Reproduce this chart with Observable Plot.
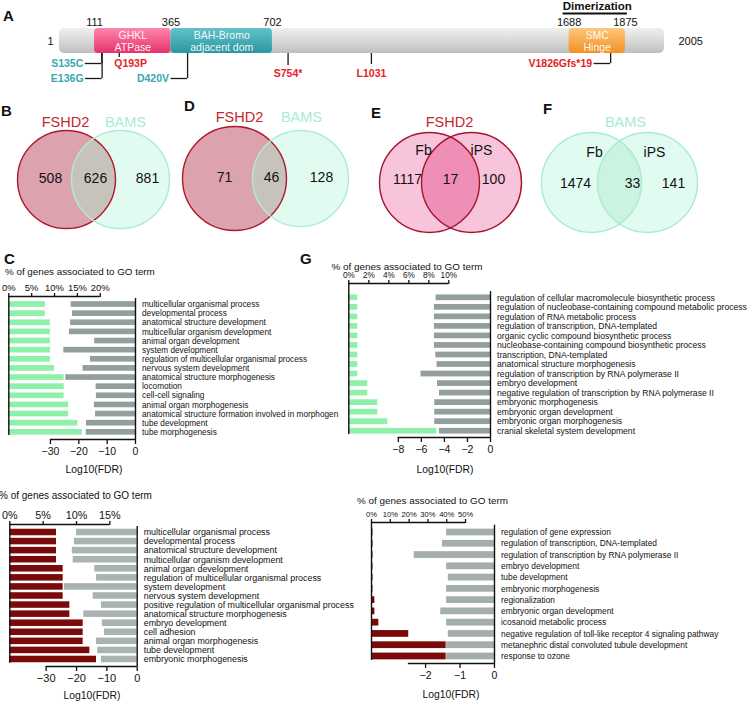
<!DOCTYPE html>
<html>
<head>
<meta charset="utf-8">
<script src="https://cdn.jsdelivr.net/npm/d3@7"></script>
<script src="https://cdn.jsdelivr.net/npm/@observablehq/plot@0.6"></script>
<style>
  html, body { margin: 0; padding: 0; background: #fff; }
  #fig { position: relative; width: 754px; height: 703px; overflow: hidden; background: #fff;
         font-family: "Liberation Sans", Arial, Helvetica, sans-serif; color: #111; }
  #fig .t { position: absolute; white-space: nowrap; line-height: 1; }
</style>
</head>
<body>
<svg width="0" height="0" style="position:absolute">
  <defs>
    <linearGradient id="gBar" x1="0" y1="0" x2="0" y2="1">
      <stop offset="0" stop-color="#efefef"/><stop offset="0.5" stop-color="#d9d9d9"/><stop offset="1" stop-color="#bfbfbf"/>
    </linearGradient>
    <linearGradient id="gGHKL" x1="0" y1="0" x2="0" y2="1">
      <stop offset="0" stop-color="#fc86ab"/><stop offset="1" stop-color="#e5336b"/>
    </linearGradient>
    <linearGradient id="gBAH" x1="0" y1="0" x2="0" y2="1">
      <stop offset="0" stop-color="#62c3ca"/><stop offset="1" stop-color="#2b97a2"/>
    </linearGradient>
    <linearGradient id="gSMC" x1="0" y1="0" x2="0" y2="1">
      <stop offset="0" stop-color="#fdc77c"/><stop offset="1" stop-color="#f29125"/>
    </linearGradient>
  </defs>
</svg>
<div id="fig"></div>
<script>
// ===================== DATA =====================
// Panel A: SMCHD1 protein
const proteinLength = 2005;
const domainNames = ["GHKL\nATPase", "BAH-Bromo\nadjacent dom", "SMC\nHinge"];
const domainStarts = [111, 365, 1688];
const domainEnds = [365, 702, 1875];
const dimerizationLabel = "Dimerization";
const dimerizationRange = [1688, 1875];
const mutationNames = ["S135C", "E136G", "Q193P", "D420V", "S754*", "L1031", "V1826Gfs*19"];
const mutationPositions = [135, 136, 193, 420, 754, 1031, 1826];
const mutationCohorts = ["BAMS", "BAMS", "FSHD2", "BAMS", "FSHD2", "FSHD2", "FSHD2"];

// Panels B, D, E, F: Venn diagrams
const vennPanels = ["B", "D", "E", "F"];
const vennTitles = [["FSHD2", "BAMS"], ["FSHD2", "BAMS"], ["FSHD2"], ["BAMS"]];
const vennSets = [["FSHD2", "BAMS"], ["FSHD2", "BAMS"], ["Fb", "iPS"], ["Fb", "iPS"]];
const vennShowSetNames = [false, false, true, true];
const vennCounts = [[508, 626, 881], [71, 46, 128], [1117, 17, 100], [1474, 33, 141]];

// Panel C (top): BAMS
const cUpTerms = ["multicellular organismal process", "developmental process", "anatomical structure development",
  "multicellular organism development", "animal organ development", "system development",
  "regulation of multicellular organismal process", "nervous system development", "anatomical structure morphogenesis",
  "locomotion", "cell-cell signaling", "animal organ morphogenesis",
  "anatomical structure formation involved in morphogen", "tube development", "tube morphogenesis"];
const cUpPct = [8.0, 8.0, 9.1, 9.1, 9.1, 9.1, 9.1, 10.0, 12.1, 12.1, 12.1, 13.1, 13.1, 15.1, 16.1];
const cUpFdr = [-22.7, -22.2, -22.9, -23.3, -14.4, -25.3, -15.9, -18.5, -24.6, -13.9, -13.8, -14.5, -14.1, -17.3, -17.4];
const cUpPctTicks = [0, 5, 10, 15, 20];
const cUpFdrTicks = [-30, -20, -10, 0];

// Panel C (bottom): FSHD2
const cLoTerms = ["multicellular organismal process", "developmental process", "anatomical structure development",
  "multicellular organism development", "animal organ development", "regulation of multicellular organismal process",
  "system development", "nervous system development", "positive regulation of multicellular organismal process",
  "anatomical structure morphogenesis", "embryo development", "cell adhesion", "animal organ morphogenesis",
  "tube development", "embryonic morphogenesis"];
const cLoPct = [7.0, 7.0, 7.0, 7.0, 8.0, 8.0, 8.0, 8.0, 9.0, 9.0, 11.0, 11.0, 11.0, 12.0, 13.0];
const cLoFdr = [-20.0, -20.7, -21.4, -21.1, -14.0, -13.4, -24.0, -14.5, -11.8, -17.6, -11.5, -10.8, -13.4, -13.0, -11.8];
const cLoPctTicks = [0, 5, 10, 15];
const cLoFdrTicks = [-30, -20, -10, 0];

// Panel G (top): BAMS
const gUpTerms = ["regulation of cellular macromolecule biosynthetic process",
  "regulation of nucleobase-containing compound metabolic process", "regulation of RNA metabolic process",
  "regulation of transcription, DNA-templated", "organic cyclic compound biosynthetic process",
  "nucleobase-containing compound biosynthetic process", "transcription, DNA-templated",
  "anatomical structure morphogenesis", "regulation of transcription by RNA polymerase II", "embryo development",
  "negative regulation of transcription by RNA polymerase II", "embryonic morphogenesis",
  "embryonic organ development", "embryonic organ morphogenesis", "cranial skeletal system development"];
const gUpPct = [0.9, 0.9, 0.9, 0.9, 0.9, 0.9, 0.9, 0.9, 0.9, 1.9, 1.9, 2.9, 2.9, 3.9, 8.8];
const gUpFdr = [-4.72, -4.87, -4.87, -4.87, -4.87, -4.87, -4.75, -4.64, -6.03, -4.6, -4.43, -4.84, -4.84, -4.84, -4.43];
const gUpPctTicks = [0, 2, 4, 6, 8, 10];
const gUpFdrTicks = [-8, -6, -4, -2, 0];

// Panel G (bottom): FSHD2
const gLoTerms = ["regulation of gene expression", "regulation of transcription, DNA-templated",
  "regulation of transcription by RNA polymerase II", "embryo development", "tube development",
  "embryonic morphogenesis", "regionalization", "embryonic organ development", "icosanoid metabolic process",
  "negative regulation of toll-like receptor 4 signaling pathway",
  "metanephric distal convoluted tubule development", "response to ozone"];
const gLoPct = [0.8, 0.8, 0.8, 0.8, 0.8, 0.8, 1.8, 1.8, 3.9, 19.8, 39.7, 39.7];
const gLoFdr = [-1.39, -1.51, -2.33, -1.39, -1.34, -1.39, -1.39, -1.56, -1.39, -1.34, -1.39, -1.39];
const gLoPctTicks = [0, 10, 20, 30, 40, 50];
const gLoFdrTicks = [-2, -1, 0];

const pctAxisTitle = "% of genes associated to GO term";
const fdrAxisTitle = "Log10(FDR)";

// ===================== LAYOUT / STYLE =====================
const FONT = "'Liberation Sans', Arial, Helvetica, sans-serif";
const fig = document.getElementById("fig");
function put(node, left, top) {
  node.style.position = "absolute";
  node.style.left = left + "px";
  node.style.top = top + "px";
  fig.appendChild(node);
  return node;
}
function txt(s, x, y, {size = 10, weight = "normal", color = "#111", anchor = "start"} = {}) {
  const d = document.createElement("div");
  d.className = "t";
  d.textContent = s;
  d.style.left = x + "px";
  d.style.top = y + "px";
  d.style.fontSize = size + "px";
  d.style.fontWeight = weight;
  d.style.color = color;
  const tx = anchor === "middle" ? "-50%" : anchor === "end" ? "-100%" : "0";
  d.style.transform = `translate(${tx}, -50%)`;
  fig.appendChild(d);
}
const baseStyle = (size) => ({background: "none", overflow: "visible", fontFamily: FONT, fontSize: size + "px", color: "#111"});
const intFormat = d3.format("~f");

// Panel letters
[["A", 3, 15], ["B", 1, 110], ["D", 184, 105], ["E", 371, 112], ["F", 543, 108], ["C", 4, 258], ["G", 300, 258]]
  .forEach(([s, x, y]) => txt(s, x, y, {size: 15, weight: "bold"}));

// ===================== PANEL A =====================
{
  const H = 95;
  const lane = {dimText: 6, dimLine: 13, num: 22, barTop: 28, barBot: 53, mid: 40.5};
  const ARM = 55; // bracket arm length in residues
  const mutationLayout = [
    {y: 63, side: "left"}, {y: 78, side: "left"}, {y: 63, side: "belowStart", stem: 57},
    {y: 78, side: "left"}, {y: 73, side: "below", stem: 65}, {y: 73, side: "below", stem: 64},
    {y: 63, side: "left"}
  ];
  const domains = domainNames.map((name, i) => ({name, start: domainStarts[i], end: domainEnds[i]}));
  const bounds = Array.from(new Set([...domainStarts, ...domainEnds])).sort((a, b) => a - b);
  const muts = mutationNames.map((name, i) => ({name, pos: mutationPositions[i], cohort: mutationCohorts[i], ...mutationLayout[i]}));
  const cohortColor = {BAMS: "#3ba6b2", FSHD2: "#e3231f"};
  const domainFill = ["url(#gGHKL)", "url(#gBAH)", "url(#gSMC)"];
  const mutText = (sel, opts) => Plot.text(muts.filter(sel), {y: "y", text: "name", fill: d => cohortColor[d.cohort], fontWeight: "bold", fontSize: 10.5, ...opts});
  const plotA = Plot.plot({
    width: 754, height: H, margin: 0,
    x: {domain: [1, proteinLength], range: [61, 664], axis: null},
    y: {domain: [0, H], range: [0, H], axis: null},
    color: {type: "identity"},
    style: baseStyle(11),
    marks: [
      Plot.rect([proteinLength], {x1: 1, x2: d => d, y1: lane.barTop, y2: lane.barBot, rx: 5, fill: "url(#gBar)", insetLeft: -2}),
      ...domains.map((d, i) => Plot.rect([d], {x1: "start", x2: "end", y1: lane.barTop, y2: lane.barBot, rx: 4, fill: domainFill[i]})),
      Plot.text(domains, {x: d => (d.start + d.end) / 2, y: lane.mid, text: "name", fill: "#fff", fillOpacity: 0.93, fontSize: 10.5, lineHeight: 1.15}),
      Plot.text(bounds, {x: d => d, y: lane.num, text: d => String(d), fontSize: 11}),
      Plot.text([1], {x: d => d, y: lane.mid, text: d => String(d), dx: -11, fontSize: 11}),
      Plot.text([proteinLength], {x: d => d, y: lane.mid, text: d => String(d), dx: 14, textAnchor: "start", fontSize: 11}),
      Plot.ruleX(muts, {x: "pos", y1: lane.barBot, y2: d => d.stem ?? d.y, stroke: "#1a1a1a", strokeWidth: 1.3}),
      Plot.ruleY(muts.filter(d => d.side === "left"), {y: "y", x1: d => d.pos - ARM, x2: "pos", stroke: "#1a1a1a", strokeWidth: 1.3}),
      mutText(d => d.side === "left", {x: d => d.pos - ARM, textAnchor: "end", dx: -2}),
      mutText(d => d.side === "below", {x: "pos", textAnchor: "middle"}),
      mutText(d => d.side === "belowStart", {x: "pos", textAnchor: "start", dx: -5}),
      Plot.text([dimerizationRange], {x: d => (d[0] + d[1]) / 2, y: lane.dimText, text: () => dimerizationLabel, fontWeight: "bold", fontSize: 11.5}),
      Plot.ruleY([dimerizationRange], {x1: d => d[0], x2: d => d[1], y: lane.dimLine, stroke: "#111", strokeWidth: 2, insetLeft: -6, insetRight: -2})
    ]
  });
  put(plotA, 0, 0);
}

// ===================== VENN PANELS =====================
const vennLayout = [
  {cx: [66, 120], cy: 179, r: [49, 49], titleX: [65, 125], titleY: 122, countX: [50, 95, 147], countY: 178},
  {cx: [234, 300], cy: 178, r: [52, 48], titleX: [239, 301], titleY: 117, countX: [224, 271, 321], countY: 177},
  {cx: [429, 471], cy: 182, r: [50, 50], titleX: [449], titleY: 122, subX: [423, 481], subY: 150, countX: [407, 450, 493], countY: 179},
  {cx: [591, 647], cy: 182, r: [50, 50], titleX: [625], titleY: 122, subX: [594, 654], subY: 152, countX: [575, 632, 673], countY: 183}
];
const vennColors = [
  {fill: ["#dca3ae", "#e2fbf1"], stroke: ["#b0192a", "#aaedd4"], overlap: "#c7c3bb", title: ["#c1272d", "#a8ebd1"]},
  {fill: ["#dca3ae", "#e2fbf1"], stroke: ["#b0192a", "#aaedd4"], overlap: "#c7c3bb", title: ["#c1272d", "#a8ebd1"]},
  {fill: ["#f8c4db", "#f8c4db"], stroke: ["#a3162b", "#a3162b"], overlap: "#ef8fb7", title: ["#c1272d"]},
  {fill: ["#e1fbf0", "#e1fbf0"], stroke: ["#a8ecd2", "#a8ecd2"], overlap: "#caf4e1", title: ["#a8ebd1"]}
];
vennPanels.forEach((letter, k) => {
  const g = vennLayout[k], col = vennColors[k];
  const left = g.cx[0] - g.r[0] - 8;
  const top = g.titleY - 14;
  const W = g.cx[1] + g.r[1] + 30 - left;
  const H = g.cy + Math.max(...g.r) + 4 - top;
  const xi = x => (x - g.cx[0]) / (g.cx[1] - g.cx[0]);   // page px -> set-index units
  const yl = y => (y - g.titleY) / (g.cy - g.titleY);    // page px -> lane units
  const sets = vennSets[k].map((name, i) => ({i, name}));
  const titles = vennTitles[k].map((name, i) => ({i, name}));
  const counts = vennCounts[k].map((v, j) => ({j, v}));
  const plot = Plot.plot({
    width: W, height: H, margin: 0,
    x: {domain: [0, 1], range: [g.cx[0] - left, g.cx[1] - left], axis: null},
    y: {domain: [0, 1], range: [g.titleY - top, g.cy - top], axis: null},
    color: {type: "identity"},
    style: baseStyle(14),
    marks: [
      ...sets.map(s => Plot.dot([s], {x: "i", y: () => 1, r: g.r[s.i], fill: col.fill[s.i]})),
      Plot.dot([sets[1]], {x: "i", y: () => 1, r: g.r[1], fill: col.overlap}),
      ...sets.map(s => Plot.dot([s], {x: "i", y: () => 1, r: g.r[s.i], fill: "none", stroke: col.stroke[s.i], strokeWidth: 1.4})),
      Plot.text(titles, {x: d => xi(g.titleX[d.i]), y: () => 0, text: "name", fill: d => col.title[d.i], fontSize: 14.5}),
      ...(vennShowSetNames[k] ? [Plot.text(sets, {x: d => xi(g.subX[d.i]), y: () => yl(g.subY), text: "name", fill: "#111", fontSize: 14})] : []),
      Plot.text(counts, {x: d => xi(g.countX[d.j]), y: () => yl(g.countY), text: d => String(d.v), fill: "#111", fontSize: 14})
    ]
  });
  // clip the overlap disc to the first circle
  const groups = plot.querySelectorAll("g[aria-label='dot']");
  const ns = "http://www.w3.org/2000/svg";
  const defs = document.createElementNS(ns, "defs");
  const cp = document.createElementNS(ns, "clipPath");
  cp.setAttribute("id", "vclip" + k);
  const c0 = groups[0].querySelector("circle, path");
  if (c0) cp.appendChild(c0.cloneNode(true));
  defs.appendChild(cp);
  plot.insertBefore(defs, plot.firstChild);
  groups[2].setAttribute("clip-path", `url(#vclip${k})`);
  put(plot, left, top);
});

// ===================== GO BAR PANELS =====================
const goPanels = [
  {terms: cUpTerms, pct: cUpPct, fdr: cUpFdr, pctTicks: cUpPctTicks, fdrTicks: cUpFdrTicks,
   L: {xLeft: 8.3, xZero: 135, axisY: 296, row0: 304, step: 9.13, bottomAxisY: 439, pctMax: 27.7, fdrMin: -44.7, fdrAxisFrom: -30,
       bar: 0.31, pctTick: 9.5, fdrTick: 10.5, label: 8.25, pctColor: "#8ff0a9", fdrColor: "#939f9d",
       title: [5, 272, 9.8], xlab: [94, 470, 10.4]}},
  {terms: cLoTerms, pct: cLoPct, fdr: cLoFdr, pctTicks: cLoPctTicks, fdrTicks: cLoFdrTicks,
   L: {xLeft: 9.3, xZero: 136.7, axisY: 524, row0: 532, step: 9.07, bottomAxisY: 666, pctMax: 19.1, fdrMin: -42.0, fdrAxisFrom: -30,
       bar: 0.36, pctTick: 10.8, fdrTick: 11, label: 8.9, pctColor: "#7b0b0b", fdrColor: "#a9b3b1",
       title: [-1, 496, 10], xlab: [92, 696, 10.4]}},
  {terms: gUpTerms, pct: gUpPct, fdr: gUpFdr, pctTicks: gUpPctTicks, fdrTicks: gUpFdrTicks,
   L: {xLeft: 348.3, xZero: 490, axisY: 283, row0: 297.3, step: 9.53, bottomAxisY: 437, pctMax: 14.17, fdrMin: -12.3, fdrAxisFrom: -8,
       bar: 0.3, pctTick: 8.2, fdrTick: 10.5, label: 8.6, pctColor: "#8ff0a9", fdrColor: "#939f9d",
       title: [331.5, 267, 9.9], xlab: [445, 470, 10.4]}},
  {terms: gLoTerms, pct: gLoPct, fdr: gLoFdr, pctTicks: gLoPctTicks, fdrTicks: gLoFdrTicks,
   L: {xLeft: 371, xZero: 494, axisY: 522, row0: 532, step: 11.27, bottomAxisY: 663, pctMax: 65.4, fdrMin: -3.57, fdrAxisFrom: -2.5,
       bar: 0.3, pctTick: 7.6, fdrTick: 10.5, label: 8.4, pctColor: "#7b0b0b", fdrColor: "#a4afad",
       title: [357, 501, 9.9], xlab: [451, 695, 10.4]}}
];

goPanels.forEach(p => {
  const L = p.L, n = p.terms.length;
  const rows = p.terms.map((term, i) => ({i, term, pct: p.pct[i], fdr: p.fdr[i]}));
  const left = Math.floor(L.xLeft) - 4, top = L.axisY - 28;
  const width = Math.ceil(L.xZero) + 4 - left;
  const height = L.bottomAxisY + 30 - top;
  const yTop = (L.axisY - L.row0) / L.step;
  const yBot = (L.bottomAxisY - L.row0) / L.step;
  const common = {
    width, height,
    marginLeft: L.xLeft - left, marginRight: left + width - L.xZero,
    marginTop: L.axisY - top, marginBottom: top + height - L.bottomAxisY,
    y: {domain: [yTop, yBot], range: [L.axisY - top, L.bottomAxisY - top], axis: null}
  };
  const pctPlot = Plot.plot({
    ...common,
    style: baseStyle(L.pctTick),
    x: {domain: [0, L.pctMax]},
    marks: [
      Plot.rect(rows, {x1: 0, x2: "pct", y1: d => d.i - L.bar, y2: d => d.i + L.bar, fill: L.pctColor}),
      Plot.ruleX([0], {y1: yTop, y2: n - 1 + L.bar + 0.05, stroke: "#111", strokeWidth: 1.4}),
      Plot.ruleY([yTop], {x1: 0, x2: p.pctTicks[p.pctTicks.length - 1], stroke: "#111", strokeWidth: 1.4}),
      Plot.axisX({anchor: "top", ticks: p.pctTicks, tickFormat: d => intFormat(d) + "%", tickSize: 4, tickPadding: 2, strokeWidth: 1.3, label: null})
    ]
  });
  const fdrPlot = Plot.plot({
    ...common,
    style: baseStyle(L.fdrTick),
    x: {domain: [L.fdrMin, 0]},
    marks: [
      Plot.rect(rows, {x1: "fdr", x2: 0, y1: d => d.i - L.bar, y2: d => d.i + L.bar, fill: L.fdrColor}),
      Plot.ruleX([0], {y1: -0.65, y2: yBot, stroke: "#111", strokeWidth: 1.4}),
      Plot.ruleY([yBot], {x1: L.fdrAxisFrom, x2: 0, stroke: "#111", strokeWidth: 1.4}),
      Plot.axisX({anchor: "bottom", ticks: p.fdrTicks, tickFormat: intFormat, tickSize: 5, tickPadding: 3, strokeWidth: 1.3, label: null}),
      Plot.text(rows, {x: 0, y: "i", text: "term", textAnchor: "start", dx: 6.5, fontSize: L.label, fill: "#111"})
    ]
  });
  put(pctPlot, left, top);
  put(fdrPlot, left, top);
  txt(pctAxisTitle, L.title[0], L.title[1], {size: L.title[2]});
  txt(fdrAxisTitle, L.xlab[0], L.xlab[1], {size: L.xlab[2], anchor: "middle"});
});
</script>
</body>
</html>
